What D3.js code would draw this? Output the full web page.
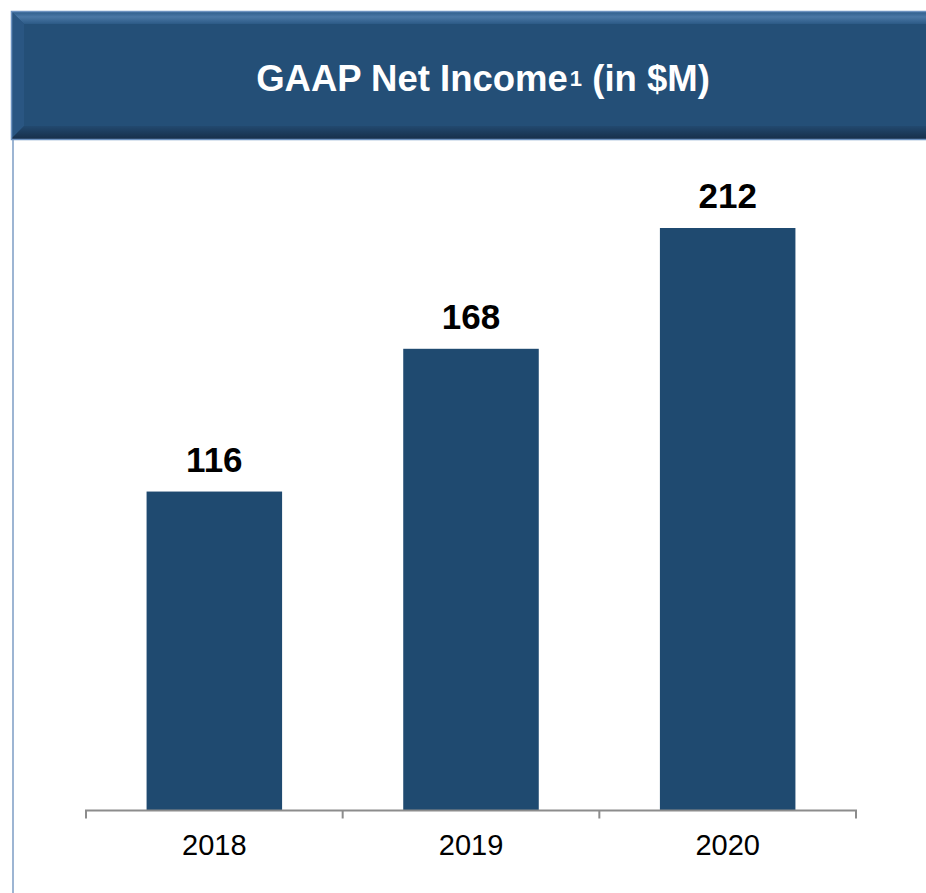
<!DOCTYPE html>
<html>
<head>
<meta charset="utf-8">
<script src="https://cdn.jsdelivr.net/npm/d3@7"></script>
<style>
  body { margin: 0; background: #fff; }
  svg { display: block; font-family: Arial, "Liberation Sans", sans-serif; }
</style>
</head>
<body>
<div id="chart"></div>
<script>
// datos
const years = ["2018", "2019", "2020"];
const netIncome = [116, 168, 212];

const width = 926;
const height = 893;
const margin = { top: 228, right: 70, bottom: 83, left: 86 };
const barColor = "#1f4a70";

const svg = d3.select("#chart").append("svg")
    .attr("width", width)
    .attr("height", height);

// cabecera con bisel
const defs = svg.append("defs");
const gTop = defs.append("linearGradient").attr("id", "bevTop").attr("x1", 0).attr("y1", 0).attr("x2", 0).attr("y2", 1);
gTop.append("stop").attr("offset", "0%").attr("stop-color", "#2a5a88");
gTop.append("stop").attr("offset", "45%").attr("stop-color", "#4a77a5");
gTop.append("stop").attr("offset", "100%").attr("stop-color", "#2c5a86");
const gBot = defs.append("linearGradient").attr("id", "bevBot").attr("x1", 0).attr("y1", 0).attr("x2", 0).attr("y2", 1);
gBot.append("stop").attr("offset", "0%").attr("stop-color", "#22496f");
gBot.append("stop").attr("offset", "100%").attr("stop-color", "#172f4a");

const hx = 11, hy = 11, hh = 128, bev = 13;
const header = svg.append("g").attr("id", "header");
header.append("rect")
    .attr("x", hx).attr("y", hy).attr("width", width - hx + 2).attr("height", hh)
    .attr("fill", "#244f77");
header.append("polygon")
    .attr("points", `${hx},${hy} ${width},${hy} ${width},${hy + bev} ${hx + bev},${hy + bev}`)
    .attr("fill", "url(#bevTop)");
header.append("polygon")
    .attr("points", `${hx},${hy} ${hx + bev},${hy + bev} ${hx + bev},${hy + hh - bev} ${hx},${hy + hh}`)
    .attr("fill", "#2a5682");
header.append("polygon")
    .attr("points", `${hx},${hy + hh} ${hx + bev},${hy + hh - bev} ${width},${hy + hh - bev} ${width},${hy + hh}`)
    .attr("fill", "url(#bevBot)");
header.append("rect")
    .attr("x", hx + 0.5).attr("y", hy + 0.5).attr("width", width - hx + 2).attr("height", hh)
    .attr("fill", "none").attr("stroke", "#6d92c0").attr("stroke-width", 1.5);

const title = header.append("text")
    .attr("x", 483).attr("y", 91)
    .attr("text-anchor", "middle")
    .attr("fill", "#fff")
    .attr("font-weight", "bold")
    .attr("font-size", 36.5);
title.append("tspan").text("GAAP Net Income");
title.append("tspan").attr("font-size", 22).attr("dx", 2).attr("dy", -5).text("1");
title.append("tspan").attr("dy", 5).text(" (in $M)");

// linea izquierda
svg.append("line")
    .attr("x1", 13).attr("x2", 13)
    .attr("y1", hy + hh + 1).attr("y2", height)
    .attr("stroke", "#7c9cc4").attr("stroke-width", 1.5);

// escalas
const x = d3.scaleBand().domain(years).range([margin.left, width - margin.right]).padding(0);
const xBar = d3.scaleBand().domain(years).range([margin.left, width - margin.right])
    .paddingInner(0.472).paddingOuter(0.236);
const y = d3.scaleLinear().domain([0, d3.max(netIncome)]).range([height - margin.bottom, margin.top]);

// barras
const data = years.map((yr, i) => ({ year: yr, value: netIncome[i] }));
svg.append("g").selectAll("rect").data(data).join("rect")
    .attr("x", d => xBar(d.year))
    .attr("y", d => y(d.value))
    .attr("width", xBar.bandwidth())
    .attr("height", d => y(0) - y(d.value))
    .attr("fill", barColor);

svg.append("g").selectAll("text").data(data).join("text")
    .attr("x", d => xBar(d.year) + xBar.bandwidth() / 2)
    .attr("y", d => y(d.value) - 20)
    .attr("text-anchor", "middle")
    .attr("font-weight", "bold")
    .attr("font-size", 35)
    .attr("fill", "#000")
    .text(d => d.value);

// eje x
const xAxisGroup = svg.append("g").attr("transform", `translate(0, ${y(0) + 0.5})`);
xAxisGroup.call(d3.axisBottom(x).tickSize(0).tickPadding(24));
xAxisGroup.select(".domain").attr("stroke", "#8c8c8c").attr("stroke-width", 2)
    .attr("d", `M${x.range()[0]},8V0H${x.range()[1]}V8`);
xAxisGroup.selectAll(".tick text")
    .attr("font-size", 29).attr("font-family", "Arial, 'Liberation Sans', sans-serif")
    .attr("fill", "#000");
xAxisGroup.selectAll(".edge").data(years.slice(1)).join("line")
    .attr("class", "edge")
    .attr("x1", d => x(d)).attr("x2", d => x(d))
    .attr("y1", 0).attr("y2", 8)
    .attr("stroke", "#8c8c8c").attr("stroke-width", 2);
</script>
</body>
</html>
